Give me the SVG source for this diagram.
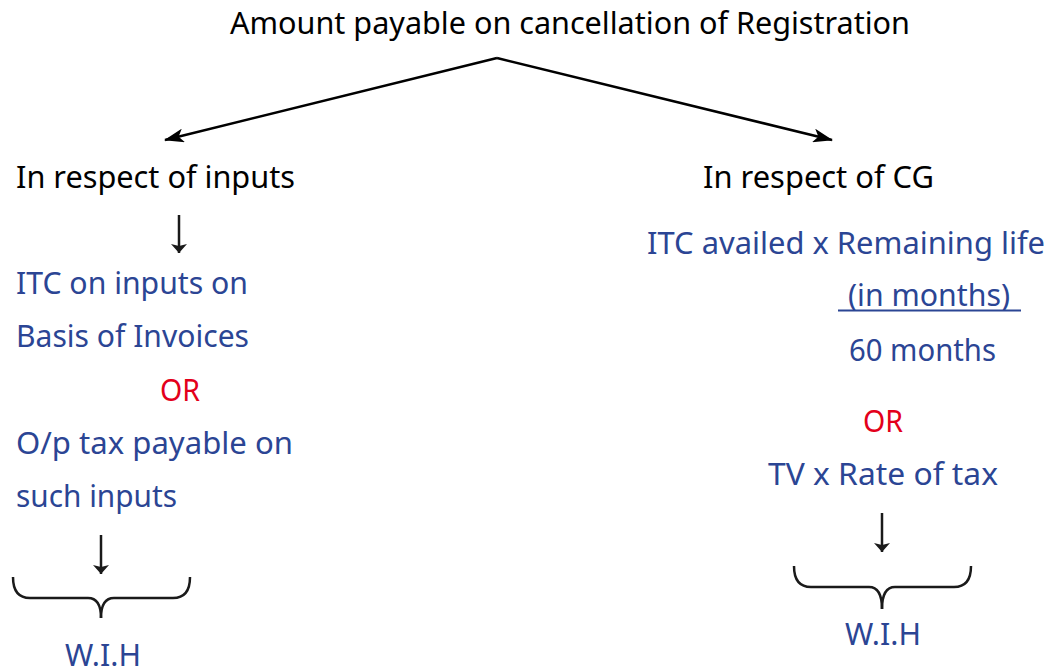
<svg xmlns="http://www.w3.org/2000/svg" width="1051" height="671" viewBox="0 0 1051 671">
<style>
text{font-family:"Noto Sans","DejaVu Sans",sans-serif;font-size:31px}
.k{fill:#000}
.b{fill:#2B4594}
.r{fill:#E3001B}
.ln{stroke:#000;stroke-width:2.5;fill:none}
.sm{stroke:#1a1a1a;stroke-width:2.5;fill:none}
.br{stroke:#1a1a1a;stroke-width:2.5;fill:none}
</style>
<defs>
<marker id="ah" markerWidth="20" markerHeight="14" refX="19" refY="7" orient="auto" markerUnits="userSpaceOnUse" viewBox="0 0 20 14">
<path d="M0,0 L20,7 L0,14 L5,7 z" fill="#000"/>
</marker>
<marker id="ah2" markerWidth="9" markerHeight="16" refX="9" refY="8" orient="auto" markerUnits="userSpaceOnUse" viewBox="0 0 9 16">
<path d="M0,0 L9,8 L0,16 L2,8 z" fill="#1a1a1a"/>
</marker>
</defs>
<g id="title"><text class="k" x="230" y="34" textLength="680" lengthAdjust="spacingAndGlyphs">Amount payable on cancellation of Registration</text></g>
<g id="inputs"><text class="k" x="16" y="188" textLength="279" lengthAdjust="spacingAndGlyphs">In respect of inputs</text></g>
<g id="cg"><text class="k" x="703" y="188" textLength="231" lengthAdjust="spacingAndGlyphs">In respect of CG</text></g>
<g id="left-body">
<text class="b" x="16" y="294" textLength="232" lengthAdjust="spacingAndGlyphs">ITC on inputs on</text>
<text class="b" x="16" y="347" textLength="233" lengthAdjust="spacingAndGlyphs">Basis of Invoices</text>
<text class="r" x="160" y="401" textLength="40" lengthAdjust="spacingAndGlyphs">OR</text>
<text class="b" x="16" y="454" textLength="277" lengthAdjust="spacingAndGlyphs">O/p tax payable on</text>
<text class="b" x="16" y="507" textLength="161" lengthAdjust="spacingAndGlyphs">such inputs</text>
</g>
<g id="right-body">
<text class="b" x="647" y="254" textLength="398" lengthAdjust="spacingAndGlyphs">ITC availed x Remaining life</text>
<text class="b" x="848" y="306" textLength="162" lengthAdjust="spacingAndGlyphs">(in months)</text>
<line x1="838" y1="310.5" x2="1021" y2="310.5" stroke="#2B4594" stroke-width="2"/>
<text class="b" x="849" y="361" textLength="147" lengthAdjust="spacingAndGlyphs">60 months</text>
<text class="r" x="863" y="432" textLength="40" lengthAdjust="spacingAndGlyphs">OR</text>
<text class="b" x="768" y="485" textLength="230" lengthAdjust="spacingAndGlyphs">TV x Rate of tax</text>
</g>
<g id="wih-left">
<path class="br" d="M13,577 Q13,598 30,598 L88,598 Q101,598 101,618"/>
<path class="br" d="M190,577 Q190,598 173,598 L114,598 Q101,598 101,618"/>
<text class="b" x="65" y="666" textLength="76" lengthAdjust="spacingAndGlyphs">W.I.H</text>
</g>
<g id="wih-right">
<path class="br" d="M794,566 Q794,587 811,587 L869,587 Q882,587 882,609"/>
<path class="br" d="M971,566 Q971,587 954,587 L895,587 Q882,587 882,609"/>
<text class="b" x="845" y="645" textLength="76" lengthAdjust="spacingAndGlyphs">W.I.H</text>
</g>
<g id="connectors">
<line class="ln" x1="497" y1="58" x2="165" y2="140" marker-end="url(#ah)"/>
<line class="ln" x1="497" y1="58" x2="832" y2="140" marker-end="url(#ah)"/>
<line class="sm" x1="179" y1="215" x2="179" y2="253" marker-end="url(#ah2)"/>
<line class="sm" x1="101" y1="535" x2="101" y2="574" marker-end="url(#ah2)"/>
<line class="sm" x1="882" y1="513" x2="882" y2="552" marker-end="url(#ah2)"/>
</g>
</svg>
